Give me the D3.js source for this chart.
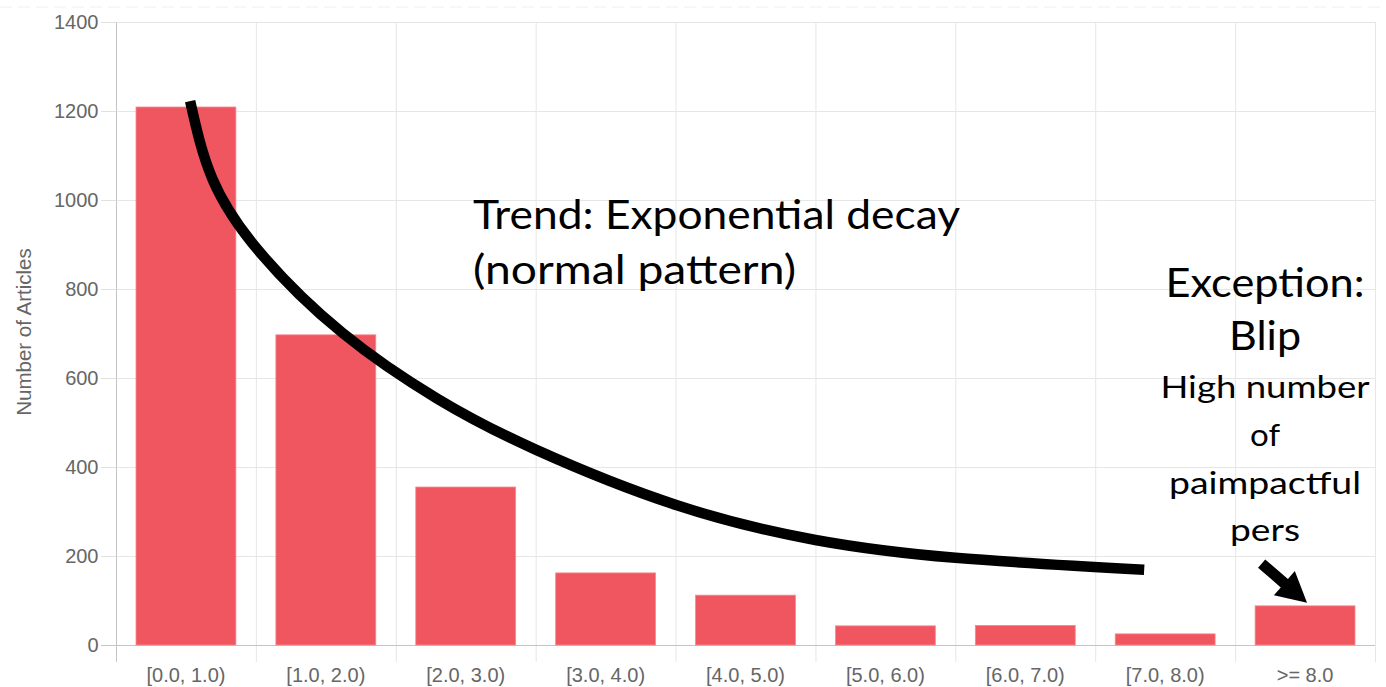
<!DOCTYPE html>
<html><head><meta charset="utf-8">
<script src="https://cdn.jsdelivr.net/npm/d3@7/dist/d3.min.js"></script>
<style>html,body{margin:0;padding:0;background:#fff;}svg{display:block;}</style>
</head><body>
<svg id="c" width="1386" height="687"></svg>
<script>
const categories = ["[0.0, 1.0)","[1.0, 2.0)","[2.0, 3.0)","[3.0, 4.0)","[4.0, 5.0)","[5.0, 6.0)","[6.0, 7.0)","[7.0, 8.0)",">= 8.0"];
const articleCounts = [1209, 697, 355, 162, 112, 43, 44, 25, 88];
const yTicks = [0, 200, 400, 600, 800, 1000, 1200, 1400];
const yTitle = "Number of Articles";
// hand-drawn trend curve: [position in category units, value]
const trendU = [0.53, 0.69, 1.03, 1.62, 2.30, 3.00, 4.01, 5.00, 6.00, 7.35];
const trendV = [1222, 1047, 882, 701, 553, 439, 314, 236, 196, 169];
const trendLines = ["Trend: Exponential decay","(normal pattern)"];
const exceptionBig = ["Exception:","Blip"];
const exceptionSmall = ["High number","of","paimpactful","pers"];

const svg = d3.select("#c");
const L = 116, R = 1375, T = 22, B = 645;
const x = d3.scaleBand().domain(categories).range([L, R]).padding(0);
const xu = d3.scaleLinear().domain([0, categories.length]).range([L, R]);
const y = d3.scaleLinear().domain([0, 1400]).range([B, T]);
const axisFont = "'Liberation Sans', Arial, Helvetica, sans-serif";

// faint top line
svg.append("line").attr("x1",0).attr("x2",1386).attr("y1",7).attr("y2",7)
  .attr("stroke","#eeeeee").attr("stroke-width",1).attr("stroke-dasharray","12,6");

// grid
const grid = svg.append("g");
grid.selectAll("line.h").data(yTicks.filter(d=>d>0)).join("line")
  .attr("x1", L-15).attr("x2", R).attr("y1", d=>y(d)+0.5).attr("y2", d=>y(d)+0.5)
  .attr("stroke","#e6e6e6").attr("stroke-width",1);
grid.selectAll("line.v").data(categories).join("line")
  .attr("x1", (d,i)=>xu(i+1)+0.5).attr("x2",(d,i)=>xu(i+1)+0.5)
  .attr("y1", T).attr("y2", B+17)
  .attr("stroke","#e6e6e6").attr("stroke-width",1);

// axes
const yAxis = d3.axisLeft(y).tickValues(yTicks).tickFormat(d3.format("d")).tickSize(15).tickPadding(3);
const gy = svg.append("g").attr("transform",`translate(${L+0.5},0)`).call(yAxis);
gy.select(".domain").attr("stroke","#c4c4c4").attr("d",`M0,${T}V${B+17}`);
gy.selectAll(".tick line").attr("stroke","#e0e0e0");
gy.selectAll(".tick text").attr("fill","#666").attr("font-size","20px").attr("font-family",axisFont);
gy.selectAll(".tick").filter(d=>d===0).select("line").attr("stroke","#c4c4c4");

const xAxis = d3.axisBottom(x).tickSize(0).tickPadding(22);
const gx = svg.append("g").attr("transform",`translate(0,${B+0.5})`).call(xAxis);
gx.select(".domain").attr("stroke","#c4c4c4").attr("d",`M${L-15},0H${R}`);
gx.selectAll(".tick text").attr("fill","#666").attr("font-size","20px").attr("font-family",axisFont);

// y title
svg.append("text").attr("transform","translate(31,332) rotate(-90)")
  .attr("text-anchor","middle").attr("fill","#666").attr("font-size","20.5px")
  .attr("font-family",axisFont).text(yTitle);

// bars
const inset = 0.143;
svg.append("g").selectAll("rect").data(articleCounts).join("rect")
  .attr("x",(d,i)=>x(categories[i]) + x.bandwidth()*inset)
  .attr("width", x.bandwidth()*(1-2*inset))
  .attr("y", d=>y(d)).attr("height", d=>y(0)-y(d))
  .attr("fill","#f0565f").attr("stroke","#f48a90").attr("stroke-width",0.8);

// trend curve
const pts = trendU.map((u,i)=>[xu(u), y(trendV[i])]);
svg.append("path").attr("d", d3.line().curve(d3.curveNatural)(pts))
  .attr("fill","none").attr("stroke","#000").attr("stroke-width",10.5).attr("stroke-linecap","butt");

const annFont = "Lato, 'Open Sans', 'Noto Sans', sans-serif";
// trend text
svg.append("text").attr("x",473).attr("y",229).attr("font-family",annFont).attr("font-size","40px")
  .attr("fill","#000").attr("textLength",487).attr("lengthAdjust","spacingAndGlyphs").text(trendLines[0]);
svg.append("text").attr("x",473).attr("y",284).attr("font-family",annFont).attr("font-size","40px")
  .attr("fill","#000").attr("textLength",323).attr("lengthAdjust","spacingAndGlyphs").text(trendLines[1]);

// exception text
const cx = 1265;
const bigY = [297, 350], bigW = [199, 72];
exceptionBig.forEach((t,i)=>{
  svg.append("text").attr("x",cx).attr("y",bigY[i]).attr("text-anchor","middle")
    .attr("font-family",annFont).attr("font-size","40px").attr("fill","#000")
    .attr("textLength",bigW[i]).attr("lengthAdjust","spacingAndGlyphs").text(t);
});
const smY = [398, 446, 494, 541], smW = [209, 30, 192, 70];
exceptionSmall.forEach((t,i)=>{
  svg.append("text").attr("x",cx).attr("y",smY[i]).attr("text-anchor","middle")
    .attr("font-family",annFont).attr("font-size","31px").attr("fill","#000")
    .attr("textLength",smW[i]).attr("lengthAdjust","spacingAndGlyphs").text(t);
});

// arrow pointing at last bar
const last = categories.length-1;
const tipX = x(categories[last]) + x.bandwidth()/2 + 2;
const tipY = y(articleCounts[last]) - 3;
const ang = Math.atan2(38, 44);
const ux = Math.cos(ang), uy = Math.sin(ang);
const tailX = tipX - 60*ux, tailY = tipY - 60*uy;
const headLen = 30, headW = 16, shaftW = 5.5;
const bx = tipX - headLen*ux, by = tipY - headLen*uy;
const px = -uy, py = ux;
const arrow = [
  [tailX + px*shaftW, tailY + py*shaftW],
  [bx + px*shaftW, by + py*shaftW],
  [bx + px*headW, by + py*headW],
  [tipX, tipY],
  [bx - px*headW, by - py*headW],
  [bx - px*shaftW, by - py*shaftW],
  [tailX - px*shaftW, tailY - py*shaftW]
];
svg.append("path").attr("d","M"+arrow.map(p=>p.join(",")).join("L")+"Z").attr("fill","#000");
</script>
</body></html>
